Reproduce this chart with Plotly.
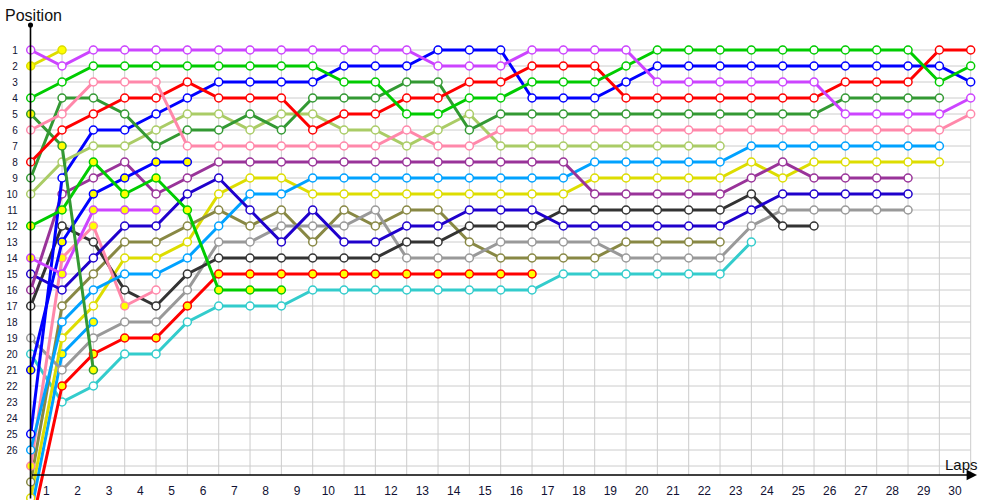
import plotly.graph_objects as go

# ---------------- data ----------------
laps = list(range(0, 31))          # 0 = grid / start
lap_labels = list(range(1, 31))    # x tick labels (centered between lap lines)
pos_labels = list(range(1, 27))    # y tick labels
grid_rows = list(range(1, 28))

violet = [1,2,1,1,1,1,1,1,1,1,1,1,1,2,2,2,1,1,1,1,3,3,3,3,3,3,5,5,5,5,4]
yellow_car = [2,1]
green = [4,3,2,2,2,2,2,2,2,2,3,3,5,5,4,4,3,3,3,2,1,1,1,1,1,1,1,1,1,3,2]
darkgreen_y = [5,7,21]
pink = [6,5,3,3,3,7,7,7,7,7,7,7,6,7,7,6,6,6,6,6,6,6,6,6,6,6,6,6,6,6,5]
red = [8,6,5,4,4,3,4,4,4,6,5,5,4,4,3,3,2,2,2,4,4,4,4,4,4,4,3,3,3,1,1]
darkgreen = [9,4,4,5,7,6,6,5,6,4,4,4,3,3,6,5,5,5,5,5,5,5,5,5,5,5,4,4,4,4]
lightolive = [10,8,7,7,6,5,5,6,5,5,6,6,7,6,5,7,7,7,7,7,7,7,7]
green_y = [12,11,8,10,9,11,16,16,16]
violet_y = [14,15,11,11,11]
navy = [15,16,14,12,12,10,9,11,13,11,13,13,12,12,11,11,11,12,12,12,12,12,12,11,10,10,10,10,10]
purple = [16,10,9,8,10,9,8,8,8,8,8,8,8,8,8,8,8,8,10,10,10,10,10,9,8,9,9,9,9]
darkgrey = [17,12,13,16,17,15,14,14,14,14,14,14,13,13,12,12,12,11,11,11,11,11,11,10,12,12]
grey = [19,21,19,18,18,16,13,13,12,12,12,11,14,14,14,13,13,13,13,14,14,14,14,12,11,11,11,11,11]
teal = [20,23,22,20,20,18,17,17,17,16,16,16,16,16,16,16,16,15,15,15,15,15,15,13]
blue_y = [21,13,10,9,8,8]
blue = [25,9,6,6,5,4,3,3,3,3,2,2,2,1,1,1,4,4,4,3,2,2,2,2,2,2,2,2,2,2,3]
lightblue = [26,18,16,15,15,14,12,10,10,9,9,9,9,9,9,9,9,9,8,8,8,8,8,7,7,7,7,7,7,7]
pink_y = [27,14,12,17,16]
olive = [28,17,15,13,13,12,11,12,11,13,11,12,11,11,13,14,14,14,14,13,13,13,13]
yellow = [29,19,17,14,14,13,10,9,9,10,10,10,10,10,10,10,10,10,9,9,9,9,9,8,9,8,8,8,8,8]
red_y = [31,22,20,19,19,17,15,15,15,15,15,15,15,15,15,15,15]
lightblue_y = [30,20,18]

# (positions, line colour, highlighted (yellow) flags per point)
series = [
    (teal, "#33cccc", None),
    (red_y, "#ff0000", "all"),
    (lightblue_y, "#00a2ff", "all"),
    (yellow, "#dddd00", None),
    (olive, "#888844", None),
    (grey, "#999999", None),
    (darkgrey, "#333333", None),
    (pink_y, "#ff88aa", [1,1,1,1,0]),
    (lightblue, "#00a2ff", None),
    (navy, "#1f00cc", None),
    (purple, "#993399", None),
    (blue_y, "#0000ff", "all"),
    (blue, "#0000ff", None),
    (violet_y, "#cc44ff", "all"),
    (green_y, "#00cc00", "all"),
    (lightolive, "#aacc66", None),
    (darkgreen, "#339933", None),
    (darkgreen_y, "#339933", "all"),
    (red, "#ff0000", None),
    (pink, "#ff88aa", None),
    (green, "#00cc00", None),
    (yellow_car, "#dddd00", "all"),
    (violet, "#cc44ff", None),
]

fig = go.Figure()
for pos, col, hl in series:
    n = len(pos)
    if hl is None:
        flags = [0] * n
    elif hl == "all":
        flags = [1] * n
    else:
        flags = hl
    fills = ["#ffff00" if f else "#ffffff" for f in flags]
    fig.add_trace(go.Scatter(
        x=laps[:n], y=pos, mode="lines+markers",
        line=dict(color=col, width=3),
        marker=dict(symbol="circle", size=8, color=fills,
                    line=dict(color=col, width=1.5)),
        cliponaxis=False, hoverinfo="skip",
    ))

# grid
shapes = []
for r in grid_rows:
    shapes.append(dict(type="line", xref="x", yref="y", x0=laps[0], x1=laps[-1],
                       y0=r, y1=r, line=dict(color="#cccccc", width=1), layer="below"))
for l in laps:
    shapes.append(dict(type="line", xref="x", yref="y", x0=l, x1=l,
                       y0=0.7, y1=27.56, line=dict(color="#cccccc", width=1), layer="below"))

X0, X1 = -0.98, 30.935
Y0, Y1 = 29.125, -2.125

fig.update_layout(
    width=1000, height=500,
    margin=dict(l=0, r=0, t=0, b=0),
    plot_bgcolor="white", paper_bgcolor="white",
    showlegend=False,
    hovermode=False,
    shapes=shapes,
    font=dict(family="Liberation Sans, Arial, sans-serif", color="#111111"),
    xaxis=dict(range=[X0, X1], domain=[0, 1], anchor="free", position=0.05,
               tickmode="array", tickvals=[v - 0.5 for v in lap_labels],
               ticktext=[str(v) for v in lap_labels],
               ticks="outside", ticklen=5, tickcolor="rgba(0,0,0,0)",
               showgrid=False, zeroline=False, showline=False,
               tickfont=dict(size=12, color="#111133"), automargin=False),
    yaxis=dict(range=[Y0, Y1], domain=[0, 1], anchor="free", position=0.0307,
               tickmode="array", tickvals=pos_labels, ticktext=[str(v) for v in pos_labels],
               ticks="outside", ticklen=11, tickcolor="rgba(0,0,0,0)",
               showgrid=False, zeroline=False, showline=False,
               tickfont=dict(size=10, color="#111133"), automargin=False),
    yaxis2=dict(range=[Y0, Y1], domain=[0, 1], overlaying="y", side="right",
                anchor="free", position=0.9707, matches="y",
                tickmode="array", tickvals=pos_labels, ticktext=[str(v) for v in pos_labels],
                ticks="outside", ticklen=4, tickcolor="rgba(0,0,0,0)",
                showgrid=False, zeroline=False, showline=False,
                tickfont=dict(size=10, color="#111133"), automargin=False),
)

# axis lines with arrow heads + axis titles
fig.add_annotation(xref="paper", yref="paper", x=0.977, y=0.05, ax=-946.5, ay=0,
                   text="", showarrow=True, arrowhead=2, arrowsize=1.3, arrowwidth=1.6,
                   arrowcolor="#000000", standoff=0)
fig.add_annotation(xref="paper", yref="paper", x=0.0305, y=0.95, ax=0, ay=480,
                   text="", showarrow=True, arrowhead=6, arrowsize=0.8, arrowwidth=1.6,
                   arrowcolor="#000000", standoff=0)
fig.add_annotation(xref="paper", yref="paper", x=0.003, y=0.97, xanchor="left", yanchor="middle",
                   text="Position", showarrow=False, font=dict(size=16, color="#111111"))
fig.add_annotation(xref="paper", yref="paper", x=0.943, y=0.07, xanchor="left", yanchor="middle",
                   text="Laps", showarrow=False, font=dict(size=15, color="#111111"))

fig.write_html("out.html",
               config={"displayModeBar": False},
               post_script="document.body.style.margin='0px';document.body.style.overflow='hidden';")
